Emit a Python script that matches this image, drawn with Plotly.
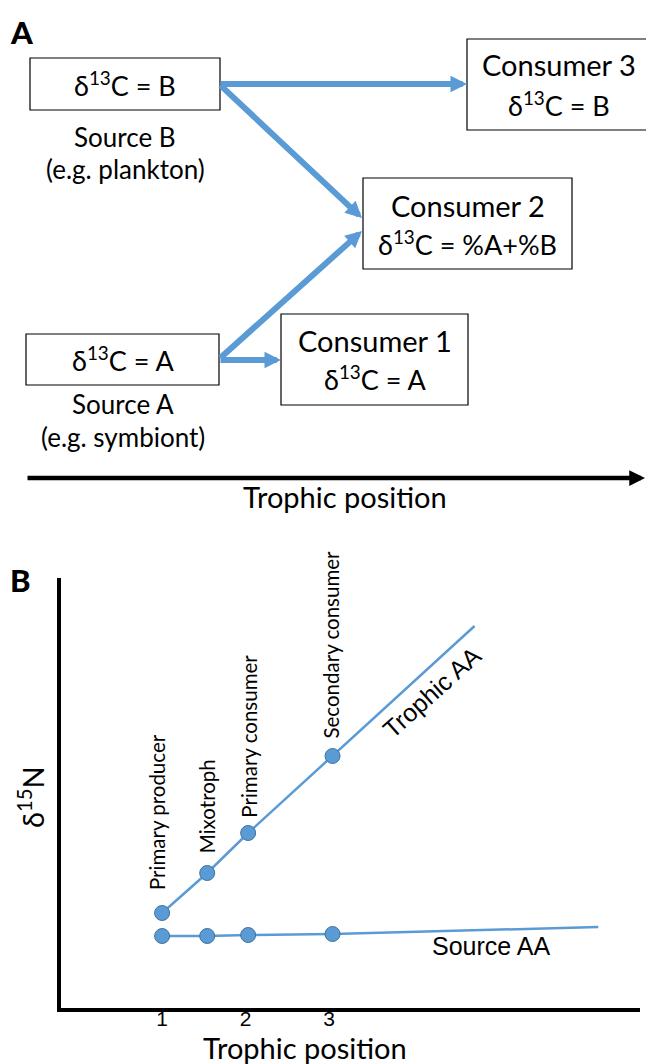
import plotly.graph_objects as go

W, H = 646, 1064

# ---------------- Panel B data ----------------
trophic_position = [1, 1.54, 2.03, 3.04]
trophic_aa_d15n = [9.5, 13.5, 17.5, 25.2]
source_aa_d15n = [7.2, 7.2, 7.3, 7.4]
trophic_line_end_x, trophic_line_end_y = 4.74, 38.2
source_line_end_x, source_line_end_y = 6.22, 8.1
point_labels = ["Primary producer", "Mixotroph", "Primary consumer", "Secondary consumer"]
x_tick_values = [1, 2, 3]
x_tick_labels = ["1", "2", "3"]
line_labels = ["Trophic AA", "Source AA"]

# ---------------- Panel A text ----------------
source_values = ["δ<sup>13</sup>C = B", "δ<sup>13</sup>C = A"]
source_names = [["Source B", "(e.g. plankton)"], ["Source A", "(e.g. symbiont)"]]
consumer_names = ["Consumer 3", "Consumer 2", "Consumer 1"]
consumer_values = ["δ<sup>13</sup>C = B", "δ<sup>13</sup>C = %A+%B", "δ<sup>13</sup>C = A"]
axis_title = "Trophic position"
y_title = "δ<sup>15</sup>N"
panel_letters = ["A", "B"]

# ---------------- layout geometry (pixels) ----------------
BLUE = "#5B9BD5"
BLUE_EDGE = "#41719C"
CAL = "Lato"
ARI = "Liberation Sans"

def X(px):
    return px / W

def Y(py):
    return 1 - py / H

source_boxes = [(30, 58, 220, 110), (26, 334, 219, 385)]
source_text_y = [84, 359]
source_name_y = [[137, 169], [404, 437]]
consumer_boxes = [(467, 39, 650, 130), (363, 178, 572, 269), (281, 314, 468, 405)]
consumer_text_y = [(65, 104), (205, 243), (340, 378)]
arrows = [((219, 84), (467, 84)), ((219, 84), (362, 218)),
          ((219, 359), (362, 231)), ((219, 360), (281, 360))]
label_xshift = [-5, 0, 1, -2]
label_yshift = [21, 18, 13, 15]

fig = go.Figure()

# ---------------- Panel B traces ----------------
fig.add_trace(go.Scatter(
    x=trophic_position + [trophic_line_end_x], y=trophic_aa_d15n + [trophic_line_end_y],
    mode="lines", line=dict(color=BLUE, width=2.5), hoverinfo="skip", showlegend=False))
fig.add_trace(go.Scatter(
    x=trophic_position + [source_line_end_x], y=source_aa_d15n + [source_line_end_y],
    mode="lines", line=dict(color=BLUE, width=2.5), hoverinfo="skip", showlegend=False))
fig.add_trace(go.Scatter(
    x=trophic_position + trophic_position, y=trophic_aa_d15n + source_aa_d15n,
    mode="markers", marker=dict(size=15, color=BLUE, line=dict(color=BLUE_EDGE, width=1)),
    showlegend=False))

shapes = []
annotations = []

# boxes
for (x0, y0, x1, y1) in source_boxes + consumer_boxes:
    shapes.append(dict(type="rect", xref="paper", yref="paper",
                       x0=X(x0), x1=X(x1), y0=Y(y1), y1=Y(y0),
                       line=dict(color="black", width=1.2), fillcolor="white", layer="above"))

def text(px, py, t, size, font=CAL, angle=0, color="black", weight="normal"):
    annotations.append(dict(xref="paper", yref="paper", x=X(px), y=Y(py), text=t,
                            showarrow=False, xanchor="center", yanchor="middle",
                            textangle=angle,
                            font=dict(family=font, size=size, color=color, weight=weight)))

for i, (x0, y0, x1, y1) in enumerate(source_boxes):
    cx = (x0 + x1) / 2
    text(cx, source_text_y[i], source_values[i], 27)
    for j, nm in enumerate(source_names[i]):
        text(cx, source_name_y[i][j], nm, 26)

for i, (x0, y0, x1, y1) in enumerate(consumer_boxes):
    cx = (x0 + x1) / 2
    text(cx, consumer_text_y[i][0], consumer_names[i], 29)
    text(cx, consumer_text_y[i][1], consumer_values[i], 27)

for (tail, tip) in arrows:
    annotations.append(dict(xref="paper", yref="paper", x=X(tip[0]), y=Y(tip[1]),
                            axref="pixel", ayref="pixel",
                            ax=tail[0] - tip[0], ay=tail[1] - tip[1], text="",
                            showarrow=True, arrowhead=2, arrowsize=0.55, arrowwidth=6,
                            arrowcolor=BLUE, standoff=0))

# black trophic axis arrow (panel A)
annotations.append(dict(xref="paper", yref="paper", x=X(645), y=Y(478),
                        axref="pixel", ayref="pixel", ax=26 - 645, ay=0, text="",
                        showarrow=True, arrowhead=2, arrowsize=0.7, arrowwidth=4.5,
                        arrowcolor="black", standoff=0))
text(345, 496, axis_title, 29)

# panel letters
text(22, 32, panel_letters[0], 31, weight=900)
text(20, 580, panel_letters[1], 31, weight=900)

# panel B labels
text(305, 1047, axis_title, 29)
text(31, 797, y_title, 29, angle=-90)
for i, lab in enumerate(point_labels):
    annotations.append(dict(xref="x", yref="y", x=trophic_position[i], y=trophic_aa_d15n[i],
                            text=lab, showarrow=False, textangle=-90,
                            xanchor="center", yanchor="bottom",
                            xshift=label_xshift[i], yshift=label_yshift[i],
                            font=dict(family=CAL, size=20.5, color="black")))
text(432, 692, line_labels[0], 25, font=ARI, angle=-42)
text(491, 946, line_labels[1], 25, font=ARI)

fig.update_layout(
    width=W, height=H, autosize=False,
    margin=dict(l=0, r=0, t=0, b=0),
    paper_bgcolor="white", plot_bgcolor="white",
    shapes=shapes, annotations=annotations,
    xaxis=dict(domain=[X(60.5), X(640)], range=[-0.216, 6.72],
               showgrid=False, zeroline=False, showline=True, linecolor="black", linewidth=4,
               ticks="", tickvals=x_tick_values, ticktext=x_tick_labels,
               ticklabelstandoff=-11,
               tickfont=dict(family=ARI, size=21, color="black")),
    yaxis=dict(domain=[56 / H, 486 / H], range=[0, 43.0],
               showgrid=False, zeroline=False, showline=True, linecolor="black", linewidth=4,
               ticks="", showticklabels=False),
)

fig.write_html("out.html")
